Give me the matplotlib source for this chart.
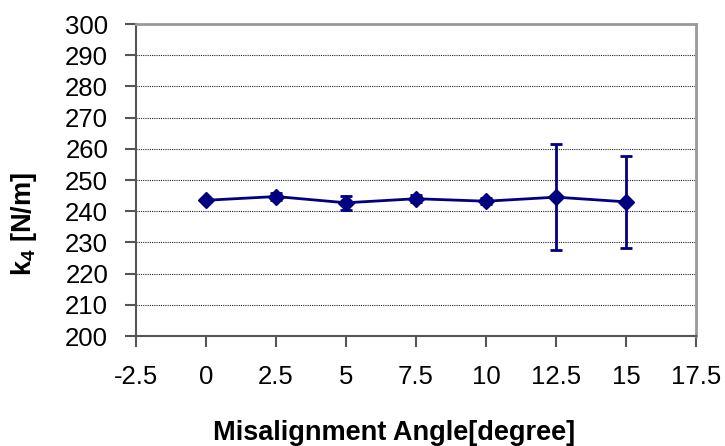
import matplotlib
matplotlib.use('Agg')
import matplotlib.pyplot as plt
import numpy as np

# Data
angle = [0, 2.5, 5, 7.5, 10, 12.5, 15]
k4 = [243.5, 244.7, 242.7, 244.0, 243.2, 244.5, 243.0]
k4_err = [0.3, 1.0, 2.3, 1.1, 0.9, 16.9, 14.7]

xticks = [-2.5, 0, 2.5, 5, 7.5, 10, 12.5, 15, 17.5]
xticklabels = ['-2.5', '0', '2.5', '5', '7.5', '10', '12.5', '15', '17.5']
yticks = np.arange(200, 301, 10)

plt.rcParams['font.family'] = ['Liberation Sans', 'DejaVu Sans']
plt.rcParams['mathtext.fontset'] = 'custom'
plt.rcParams['mathtext.rm'] = 'Liberation Sans'
plt.rcParams['mathtext.bf'] = 'Liberation Sans:bold'

navy = '#000080'

fig = plt.figure(figsize=(7.25, 4.46), dpi=100)
ax = fig.add_axes([136/725, 1-336/446, 560/725, 312/446])

ax.errorbar(angle, k4, yerr=k4_err, color=navy, lw=2, marker='D', ms=8,
            mfc=navy, mec=navy, capsize=4, capthick=2, elinewidth=2, zorder=3)

ax.set_xlim(-2.5, 17.5)
ax.set_ylim(200, 300)
ax.set_xticks(xticks)
ax.set_xticklabels(xticklabels)
ax.set_yticks(yticks)

# Horizontal dotted gridlines only
ax.yaxis.grid(True, color='#222222', linestyle=(0, (1, 1)), linewidth=0.8)
ax.set_axisbelow(True)

for s in ['left', 'bottom']:
    ax.spines[s].set_color('#555555')
    ax.spines[s].set_linewidth(1.5)
for s in ['top', 'right']:
    ax.spines[s].set_color('#999999')
    ax.spines[s].set_linewidth(2)

ax.tick_params(axis='both', direction='out', length=8, width=1.5, color='#555555',
               labelsize=18.5, labelcolor='black')
ax.tick_params(axis='x', pad=13)
ax.tick_params(axis='y', pad=12)

# Axis titles
fig.text(394/725, 1-440/446, 'Misalignment Angle[degree]', fontsize=19.5,
         fontweight='bold', ha='center', va='baseline')
fig.text(24/725, 1-224/446, r'$\mathbf{k}_\mathbf{4}$ [N/m]', fontsize=19.5,
         fontweight='bold', rotation=90, ha='center', va='center')

plt.savefig('out.png', dpi=100)
